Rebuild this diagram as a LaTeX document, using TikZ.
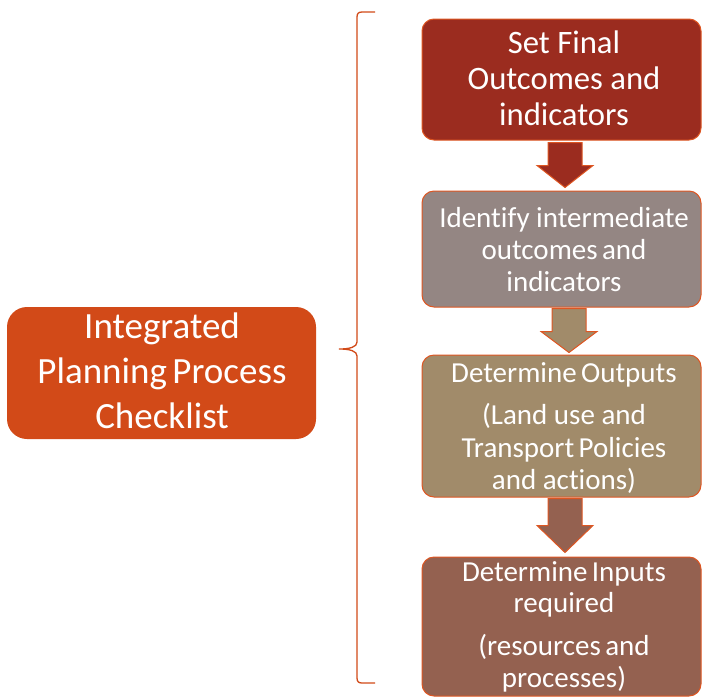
\documentclass[tikz,border=0pt]{standalone}
\usepackage{fontspec}
\setmainfont{Carlito}[Ligatures={NoCommon}]
\usetikzlibrary{calc}
\definecolor{leftc}{RGB}{210,74,24}
\definecolor{cA}{RGB}{155,44,31}
\definecolor{cB}{RGB}{148,134,131}
\definecolor{cC}{RGB}{161,139,106}
\definecolor{cD}{RGB}{148,97,80}
\definecolor{bordc}{RGB}{222,86,34}
\begin{document}
\begin{tikzpicture}[x=1pt,y=-1pt,
  flowbox/.style={draw=bordc, line width=1pt, rounded corners=12pt, minimum width=279pt, inner sep=0pt},
  mainbox/.style={fill=leftc, rounded corners=20pt, minimum width=309pt, minimum height=132pt, inner sep=0pt},
  bigtxt/.style={text=white, inner sep=0pt, font=\fontsize{32.7}{36}\selectfont, anchor=base},
  txt/.style={text=white, inner sep=0pt, font=\fontsize{29}{32}\selectfont, anchor=base},
  lefttxt/.style={text=white, inner sep=0pt, font=\fontsize{37}{45}\selectfont, anchor=base},
  flowarr/.style={draw=bordc, line width=1pt, line join=miter},
  bracesty/.style={draw=leftc, line width=1.3pt}]
\useasboundingbox (0,0) rectangle (702,697);
\fill[white] (0,0) rectangle (702,697);

% left box
\node[mainbox] (L) at (161.5,373) {};
\node[lefttxt] (L1) at (162,338) {Integrated};
\node[lefttxt] (L2) at (162,383) {Planning\hspace{0.15em}Process};
\node[lefttxt] (L3) at (162,428) {Checklist};

% flow boxes
\node[flowbox, fill=cA, minimum height=121pt] (b1) at (561.5,79.5) {};
\node[flowbox, fill=cB, minimum height=116pt] (b2) at (561.5,249) {};
\node[flowbox, fill=cC, minimum height=142pt] (b3) at (561.5,426) {};
\node[flowbox, fill=cD, minimum height=139pt] (b4) at (561.5,626.5) {};

\node[bigtxt] (t11) at (564,53) {Set Final};
\node[bigtxt] (t12) at (564,89) {Outcomes and};
\node[bigtxt] (t13) at (564,125) {indicators};

\node[txt] (t21) at (564,227.5) {Identify intermediate};
\node[txt] (t22) at (564,259) {outcomes\hspace{0.15em}and};
\node[txt] (t23) at (564,291) {indicators};

\node[txt] (t31) at (564,382) {Determine\hspace{0.15em}Outputs};
\node[txt] (t32) at (564,424) {(Land use and};
\node[txt] (t33) at (564,457) {Transport\hspace{0.15em}Policies};
\node[txt] (t34) at (564,489) {and actions)};

\node[txt] (t41) at (564,581) {Determine\hspace{0.15em}Inputs};
\node[txt] (t42) at (564,612) {required};
\node[txt] (t43) at (564,655) {(resources\hspace{0.15em}and};
\node[txt] (t44) at (564,687) {processes)};

% arrows
\draw[flowarr, fill=cA]
  ($(b1.south)+(-13.5,2)$) -- ($(b1.south)+(20.5,2)$) -- ($(b1.south)+(20.5,25)$)
  -- ($(b1.south)+(31.5,25)$) -- ($(b2.north)+(3.5,-3)$) -- ($(b1.south)+(-24.5,25)$)
  -- ($(b1.south)+(-13.5,25)$) -- cycle;
\draw[flowarr, fill=cC]
  ($(b2.south)+(-9.5,1)$) -- ($(b2.south)+(24.5,1)$) -- ($(b2.south)+(24.5,24)$)
  -- ($(b2.south)+(35.5,24)$) -- ($(b3.north)+(7.5,-2)$) -- ($(b2.south)+(-20.5,24)$)
  -- ($(b2.south)+(-9.5,24)$) -- cycle;
\draw[flowarr, fill=cD]
  ($(b3.south)+(-13.5,1)$) -- ($(b3.south)+(20.5,1)$) -- ($(b3.south)+(20.5,28)$)
  -- ($(b3.south)+(31.5,28)$) -- ($(b4.north)+(3.5,-4)$) -- ($(b3.south)+(-24.5,28)$)
  -- ($(b3.south)+(-13.5,28)$) -- cycle;

% brace
\coordinate (brtop) at (375,12);
\coordinate (brtip) at (339,349);
\coordinate (brbot) at (375,683);
\draw[bracesty] (brtop) -- (362,12) .. controls (358.5,12) and (357,13.5) .. (357,17)
  -- (357,342) .. controls (357,347) and (350,349) .. (brtip)
  .. controls (350,349) and (357,351) .. (357,356)
  -- (357,678) .. controls (357,681.5) and (358.5,683) .. (362,683) -- (brbot);
\end{tikzpicture}
\end{document}
